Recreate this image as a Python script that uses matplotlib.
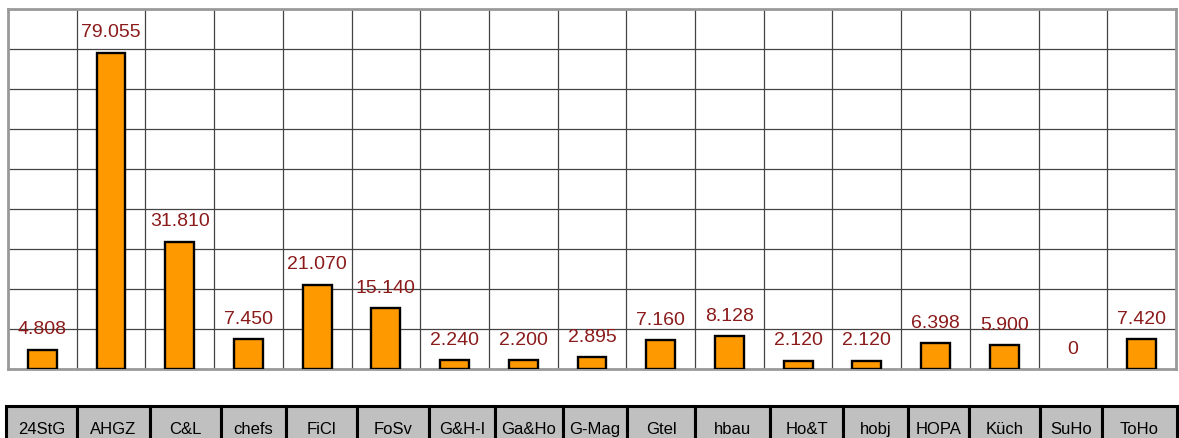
import matplotlib.pyplot as plt
import numpy as np

# Data
categories = ['24StG', 'AHGZ', 'C&L', 'chefs', 'FiCl', 'FoSv', 'G&H-I', 'Ga&Ho', 'G-Mag',
              'Gtel', 'hbau', 'Ho&T', 'hobj', 'HOPA', 'Küch', 'SuHo', 'ToHo']
values = [4808, 79055, 31810, 7450, 21070, 15140, 2240, 2200, 2895,
          7160, 8128, 2120, 2120, 6398, 5900, 0, 7420]

plt.rcParams['font.family'] = ['Liberation Sans', 'DejaVu Sans']

W, H = 1179, 439
fig = plt.figure(figsize=(W / 100, H / 100), dpi=100)

# Plot area in pixel coordinates
left, right, top, bottom = 8, 1176, 10, 370
ax = fig.add_axes([left / W, 1 - bottom / H, (right - left) / W, (bottom - top) / H])

x = np.arange(len(categories))
lws = [1.7 if v > 0 else 0 for v in values]
ax.bar(x, values, width=0.42, color='#FF9900', edgecolor='black', linewidth=lws, zorder=3)

for xi, v in zip(x, values):
    label = f"{v:,}".replace(',', '.')
    ax.annotate(label, (xi, v), xytext=(0, 15), textcoords='offset points',
                ha='center', va='center', fontsize=14, color='#8B1A1A', zorder=4)

ax.set_xlim(-0.5, len(categories) - 0.5)
ax.set_ylim(0, 90000)
ax.set_yticks(np.arange(0, 90001, 10000))
ax.set_xticks(np.arange(-0.5, len(categories), 1))
ax.tick_params(left=False, bottom=False, labelleft=False, labelbottom=False)
ax.grid(True, color='#444444', linewidth=0.9, zorder=0)
for s in ax.spines.values():
    s.set_color('#9a9a9a')
    s.set_linewidth(2)

# Category table below the chart
edges = [6, 77, 150, 221, 286, 357, 429, 495, 563, 627, 695, 770, 843, 908, 969, 1040, 1102, 1177]
widths = np.diff(edges) / (edges[-1] - edges[0])
t_top, t_bot = 407, 453
tab_ax = fig.add_axes([edges[0] / W, 1 - t_bot / H, (edges[-1] - edges[0]) / W, (t_bot - t_top) / H])
tab_ax.axis('off')
tbl = tab_ax.table(cellText=[categories], colWidths=widths, cellLoc='center', bbox=[0, 0, 1, 1])
tbl.auto_set_font_size(False)
for cell in tbl.get_celld().values():
    cell.set_facecolor('#C0C0C0')
    cell.set_edgecolor('black')
    cell.set_linewidth(2.2)
    cell.get_text().set_fontsize(12)

fig.savefig('out.png', dpi=100)
